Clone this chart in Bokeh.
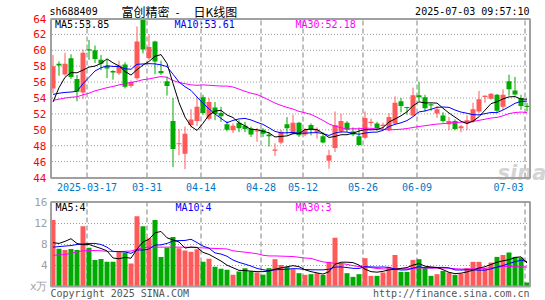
from bokeh.plotting import figure
from bokeh.models import Range1d, FixedTicker, Label, ColumnDataSource
from bokeh.layouts import column
from bokeh.embed import file_html
from bokeh.resources import INLINE

# ---------------- data ----------------
opens = [55.2, 58.3, 56.95, 59.0, 56.4, 54.7, 60.1, 60.0, 58.8, 58.05,
         57.4, 57.1, 58.2, 55.5, 56.5, 63.8, 59.0, 61.1, 57.4, 56.1,
         51.1, 48.2, 47.0, 50.6, 51.1, 54.1, 51.4, 52.8, 52.1, 50.7,
         49.95, 50.9, 50.5, 50.2, 49.8, 50.0, 49.4, 47.4, 48.4, 50.7,
         49.5, 50.9, 49.4, 50.6, 49.7, 49.2, 46.1, 47.7, 49.8, 50.9,
         49.8, 49.2, 49.0, 50.85, 50.8, 50.5, 50.0, 50.8, 53.6, 52.85,
         51.8, 54.35, 54.1, 53.2, 52.05, 51.8, 50.7, 51.1, 50.2, 50.8,
         51.1, 52.3, 54.15, 53.9, 54.4, 52.9, 56.1, 54.95, 54.0, 53.0]
highs = [59.4, 58.6, 59.7, 59.5, 56.9, 60.1, 61.3, 60.6, 59.4, 58.8,
         57.5, 58.7, 58.5, 56.2, 63.0, 63.9, 62.0, 61.2, 58.7, 56.7,
         54.0, 50.1, 50.4, 52.6, 54.1, 54.4, 54.0, 53.5, 52.9, 51.1,
         50.8, 51.2, 51.0, 50.4, 50.2, 50.2, 49.7, 48.3, 50.0, 51.6,
         51.9, 51.0, 50.2, 50.8, 50.3, 49.7, 47.5, 52.3, 52.0, 51.1,
         50.3, 50.3, 52.3, 51.4, 51.0, 50.9, 52.1, 54.2, 54.0, 52.9,
         55.3, 56.0, 54.4, 53.3, 53.0, 52.2, 51.6, 51.3, 50.6, 51.8,
         53.4, 54.9, 54.35, 54.6, 54.5, 55.1, 56.95, 56.65, 54.4, 53.4]
lows = [54.6, 56.8, 56.8, 56.4, 53.6, 53.9, 58.8, 58.4, 57.5, 56.5,
        56.3, 56.9, 55.2, 55.3, 56.3, 59.6, 58.8, 57.0, 56.9, 54.3,
        45.3, 46.8, 45.05, 50.3, 50.5, 51.9, 51.2, 51.2, 51.0, 49.8,
        49.6, 49.7, 49.7, 49.1, 48.5, 49.1, 47.9, 46.7, 48.2, 49.4,
        49.4, 49.1, 49.2, 49.3, 48.9, 48.3, 45.1, 47.2, 49.6, 49.7,
        49.2, 48.0, 48.8, 50.4, 49.9, 50.0, 49.8, 50.6, 52.2, 51.9,
        51.7, 53.6, 52.3, 52.4, 51.5, 50.9, 49.95, 49.95, 49.7, 49.95,
        50.9, 52.1, 53.4, 53.8, 52.2, 52.5, 54.3, 54.3, 52.5, 52.3]
closes = [58.0, 58.1, 58.3, 56.65, 54.8, 59.7, 60.0, 58.9, 58.3, 57.7,
          57.2, 58.1, 55.4, 56.0, 61.1, 60.1, 60.4, 58.6, 57.1, 55.5,
          47.6, 48.3, 49.5, 51.3, 52.9, 52.1, 53.5, 52.0, 51.7, 50.0,
          50.5, 50.2, 50.1, 49.4, 49.9, 49.5, 49.2, 47.5, 49.75, 50.2,
          50.9, 49.3, 50.0, 50.0, 50.0, 48.4, 46.8, 50.6, 51.1, 50.0,
          49.4, 48.1, 51.5, 51.0, 50.2, 50.6, 51.6, 53.4, 53.0, 52.75,
          54.35, 54.1, 52.7, 53.05, 52.6, 51.1, 51.1, 50.1, 50.45, 51.2,
          52.6, 53.85, 54.25, 54.55, 52.4, 54.4, 55.1, 54.45, 53.0, 52.9]
volumes = [12.66, 7.2, 6.97, 7.16, 6.97, 11.5, 7.4, 5.07, 5.26, 4.7,
           4.7, 6.65, 6.46, 4.38, 13.4, 11.5, 9.2, 12.66, 5.64, 7.4,
           9.44, 7.28, 6.84, 6.6, 7.1, 4.7, 5.3, 3.74, 3.4, 3.17,
           2.22, 2.85, 3.5, 2.9, 2.67, 2.25, 3.5, 5.2, 4.1, 3.74,
           3.3, 2.54, 2.22, 2.35, 2.54, 2.22, 4.7, 9.3, 4.38, 2.54,
           1.84, 2.35, 5.39, 2.03, 2.03, 2.67, 3.74, 6.02, 2.79, 2.79,
           5.07, 5.2, 3.49, 2.03, 2.35, 2.98, 2.67, 2.22, 2.47, 3.49,
           4.7, 4.7, 3.49, 4.56, 5.64, 6.02, 6.46, 5.64, 5.5, 0.76]
ma5 = [53.5, 55.3, 56.6, 57.2, 57.17, 57.51, 57.89, 58.01, 58.34, 58.92,
       58.42, 58.04, 57.34, 56.88, 57.56, 58.14, 58.6, 59.24, 59.46, 58.34,
       55.84, 53.42, 51.6, 50.44, 49.92, 50.82, 51.86, 52.36, 52.44, 51.86,
       51.54, 50.88, 50.5, 50.04, 50.02, 49.82, 49.62, 49.1, 49.17, 49.23,
       49.51, 49.53, 50.03, 50.08, 50.04, 49.54, 49.04, 49.16, 49.38, 49.38,
       49.58, 49.84, 50.02, 50.0, 50.04, 50.28, 50.98, 51.36, 51.76, 52.27,
       53.02, 53.52, 53.38, 53.39, 53.36, 52.71, 52.11, 51.59, 51.07, 50.79,
       51.09, 51.64, 52.47, 53.29, 53.53, 53.89, 54.14, 54.18, 53.87, 53.85]
ma10 = [54.45, 54.6, 54.7, 54.75, 54.85, 55.8, 56.6, 57.4, 57.8, 58.05,
        57.97, 57.97, 57.68, 57.61, 58.24, 58.28, 58.32, 58.29, 58.17, 57.95,
        56.99, 56.01, 55.42, 54.95, 54.13, 53.33, 52.64, 51.98, 51.44, 50.89,
        51.18, 51.37, 51.43, 51.24, 50.94, 50.68, 50.25, 49.8, 49.61, 49.63,
        49.67, 49.58, 49.57, 49.63, 49.64, 49.53, 49.29, 49.6, 49.73, 49.71,
        49.56, 49.44, 49.59, 49.69, 49.71, 49.93, 50.41, 50.69, 50.88, 51.16,
        51.65, 52.25, 52.37, 52.58, 52.82, 52.87, 52.82, 52.49, 52.23, 52.08,
        51.9, 51.88, 52.03, 52.18, 52.16, 52.49, 52.89, 53.33, 53.58, 53.61]
ma30 = [53.7, 53.85, 54.0, 54.1, 54.15, 54.4, 54.6, 54.9, 55.1, 55.3,
        55.45, 55.65, 55.8, 55.95, 56.1, 56.3, 56.4, 56.55, 56.7, 56.6,
        56.2, 55.95, 55.8, 55.65, 55.6, 55.65, 55.6, 55.55, 55.5, 55.5,
        55.38, 55.12, 54.84, 54.6, 54.44, 54.1, 53.74, 53.36, 53.07, 52.82,
        52.61, 52.32, 52.14, 51.94, 51.57, 51.18, 50.73, 50.46, 50.26, 50.08,
        50.14, 50.13, 50.2, 50.19, 50.1, 50.05, 49.98, 50.03, 50.07, 50.16,
        50.29, 50.42, 50.51, 50.63, 50.72, 50.77, 50.84, 50.92, 50.95, 50.98,
        51.04, 51.19, 51.33, 51.48, 51.56, 51.76, 52.04, 52.17, 52.23, 52.18]
vma5 = [8.35, 8.2, 8.6, 9.1, 8.19, 7.96, 8.0, 7.62, 7.24, 6.79,
        5.43, 5.28, 5.55, 5.38, 7.12, 8.48, 8.99, 10.23, 10.48, 9.28,
        8.87, 8.48, 7.32, 7.51, 7.45, 6.5, 6.11, 5.49, 4.85, 4.06,
        3.57, 3.08, 3.03, 2.93, 2.83, 2.83, 2.96, 3.3, 3.54, 3.76,
        3.97, 3.78, 3.18, 2.83, 2.59, 2.37, 2.81, 4.22, 4.63, 4.63,
        4.55, 4.08, 3.3, 2.83, 2.73, 2.89, 3.17, 3.3, 3.45, 3.6,
        4.08, 4.37, 3.87, 3.72, 3.63, 3.21, 2.7, 2.45, 2.54, 2.77,
        3.11, 3.52, 3.77, 4.19, 4.62, 4.89, 5.11, 5.53, 5.65, 4.48]
vma10 = [7.5, 7.6, 7.7, 7.8, 8.0, 8.1, 8.2, 8.2, 8.0, 7.49,
         6.69, 6.64, 6.59, 6.31, 6.95, 6.95, 7.13, 7.89, 7.93, 8.2,
         8.67, 8.74, 8.77, 9.0, 8.37, 7.69, 7.3, 6.4, 6.18, 5.76,
         5.04, 4.59, 4.26, 3.89, 3.45, 3.2, 3.02, 3.17, 3.24, 3.29,
         3.4, 3.37, 3.24, 3.19, 3.17, 3.17, 3.29, 3.7, 3.73, 3.61,
         3.46, 3.44, 3.76, 3.73, 3.68, 3.72, 3.63, 3.3, 3.14, 3.17,
         3.49, 3.77, 3.58, 3.58, 3.62, 3.65, 3.54, 3.16, 3.13, 3.2,
         3.16, 3.11, 3.11, 3.36, 3.69, 4.0, 4.38, 4.72, 5.02, 4.75]
vma30 = [5.95, 6.0, 6.1, 6.3, 6.6, 6.8, 6.85, 6.85, 6.8, 6.7,
         6.65, 6.65, 6.7, 6.75, 7.1, 7.4, 7.5, 7.5, 7.5, 7.5,
         7.5, 7.5, 7.5, 7.45, 7.4, 7.35, 7.3, 7.25, 7.2, 7.15,
         6.8, 6.66, 6.54, 6.4, 6.25, 5.95, 5.82, 5.82, 5.78, 5.75,
         5.7, 5.57, 5.42, 5.36, 5.0, 4.69, 4.54, 4.42, 4.38, 4.22,
         3.97, 3.8, 3.75, 3.6, 3.43, 3.36, 3.31, 3.39, 3.37, 3.36,
         3.45, 3.53, 3.53, 3.5, 3.49, 3.51, 3.49, 3.39, 3.33, 3.32,
         3.37, 3.44, 3.48, 3.56, 3.66, 3.79, 3.85, 3.73, 3.76, 3.7]
date_idx = [6, 16, 25, 35, 42, 52, 61, 79]
date_lbl = ["2025-03-17", "03-31", "04-14", "04-28", "05-12", "05-26", "06-09", "07-03"]
price_ticks = [44, 46, 48, 50, 52, 54, 56, 58, 60, 62, 64]
vol_ticks = [0, 4, 8, 12, 16]
symbol = "sh688409"
name = "富创精密"
kline = "日K线图"
stamp = "2025-07-03 09:57:10"
ma_price_txt = ["MA5:53.85", "MA10:53.61", "MA30:52.18"]
ma_vol_txt = ["MA5:4", "MA10:4", "MA30:3"]
copyright_txt = "Copyright 2025 SINA.COM"
url_txt = "http://finance.sina.com.cn"

# ---------------- layout constants (pixels of the 545x300 page) ----------------
W = 545
FL = 47            # left edge of the figure frames
PANEL_L, PANEL_R = 50.5, 529.5
X0, XPP = 52.5, 6.0          # pixel of candle 0, pixels per candle
P_H = 195
P_TOP, P_BOT = 18.0, 177.0   # price 64 / 44
V_TOP, V_BOT = 202.0, 286.0  # volume 16 / 0
P_FRAME_BOT = 181            # price figure frame bottom (date axis below)

RED = "#ff5a5a"
GREEN = "#00aa00"
FRAME = "#a0a0a0"
GRID = "#9c9c9c"
DASH = "#ababab"
MONO = "DejaVu Sans Mono"


def fx(X):
    return (X - X0) / XPP


def py(Y):
    return 64 - (Y - P_TOP) * 20.0 / (P_BOT - P_TOP)


def vy(Y):
    return 16.0 * (V_BOT - Y) / (V_BOT - V_TOP)


n = len(closes)
xs = list(range(n))
colors = [RED if c >= o else GREEN for o, c in zip(opens, closes)]
tops, bots = [], []
for o, c in zip(opens, closes):
    t, b = max(o, c), min(o, c)
    if t - b < 0.14:
        m = (t + b) / 2
        t, b = m + 0.07, m - 0.07
    tops.append(t)
    bots.append(b)

src = ColumnDataSource(dict(x=xs, open=opens, high=highs, low=lows, close=closes,
                            top=tops, bot=bots, color=colors, vol=volumes))

xr = Range1d(fx(FL), fx(W))
vline_x = [t - 2.0 / XPP for t in date_idx]


def style_axis(ax, color, size):
    ax.axis_line_color = None
    ax.major_tick_line_color = None
    ax.minor_tick_line_color = None
    ax.major_tick_out = 0
    ax.minor_tick_out = 0
    ax.major_tick_in = 0
    ax.minor_tick_in = 0
    ax.major_label_text_color = color
    ax.major_label_text_font = MONO
    ax.major_label_text_font_size = size


# ---------------- price panel ----------------
p1 = figure(width=W, height=P_H, x_range=xr,
            y_range=Range1d(py(P_FRAME_BOT), py(0)),
            output_backend="svg", toolbar_location=None, title=None,
            min_border_left=FL, min_border_right=0,
            min_border_top=0, min_border_bottom=P_H - P_FRAME_BOT,
            outline_line_color=None,
            background_fill_color="white", border_fill_color="white")
p1.xgrid.visible = False
p1.ygrid.visible = False
p1.yaxis.ticker = FixedTicker(ticks=price_ticks)
style_axis(p1.yaxis[0], "#ff0000", "11px")
p1.yaxis.major_label_standoff = 1

lbl_pos = []
for i, t in enumerate(date_idx):
    pos = round(t - 2.0 / XPP, 3)
    if i == len(date_idx) - 1:
        pos = round(min(pos, fx(508)), 3)
    lbl_pos.append(pos)
p1.xaxis.ticker = FixedTicker(ticks=lbl_pos)
p1.xaxis.major_label_overrides = {p: l for p, l in zip(lbl_pos, date_lbl)}
style_axis(p1.xaxis[0], "#0078c8", "10px")
p1.xaxis.major_label_standoff = 1

# grid lines inside the panel
gy = [t for t in price_ticks if 44 < t < 64]
p1.segment(x0=[fx(PANEL_L + 1)] * len(gy), y0=gy, x1=[fx(PANEL_R - 1)] * len(gy), y1=gy,
           line_color=GRID, line_width=1, line_dash="1 2")
p1.segment(x0=vline_x, y0=[44] * len(vline_x), x1=vline_x, y1=[64] * len(vline_x),
           line_color=DASH, line_width=1.5, line_dash="5 3")

p1.text(x=[fx(497)], y=[py(172)], text=["sina"], text_color="#d4d4d4",
        text_font={"value": "DejaVu Sans"}, text_font_style="bold italic",
        text_font_size="21px", text_baseline="alphabetic")

p1.segment(x0="x", y0="low", x1="x", y1="high", line_color="color", line_width=1, source=src)
p1.vbar(x="x", width=5.0 / XPP, top="top", bottom="bot", fill_color="color",
        line_color=None, source=src)
p1.line(xs, ma30, line_color="#ff00ff", line_width=1)
p1.line(xs, ma10, line_color="#0000ff", line_width=1)
p1.line(xs, ma5, line_color="#000000", line_width=1)

p1.quad(left=[fx(PANEL_L)], right=[fx(PANEL_R)], top=[py(P_TOP + 0.5)], bottom=[py(P_BOT + 0.5)],
        fill_color=None, line_color=FRAME, line_width=2)

for txt, X, col in zip(ma_price_txt, [54.5, 174, 295], ["#000000", "#0000ff", "#ff00ff"]):
    p1.add_layout(Label(x=fx(X), y=py(23.5), text=txt, text_color=col, text_font=MONO,
                        text_font_size="10px", text_baseline="middle"))

p1.add_layout(Label(x=fx(49), y=py(11), text=symbol, text_color="#000000", text_font=MONO,
                    text_font_size="10px", text_baseline="middle"))
p1.add_layout(Label(x=fx(121), y=py(11), text=name, text_color="#000000",
                    text_font="Noto Sans CJK SC", text_font_size="12px", text_baseline="middle"))
p1.add_layout(Label(x=fx(177), y=py(11), text="-", text_color="#000000", text_font=MONO,
                    text_font_size="11px", text_baseline="middle", text_align="center"))
p1.add_layout(Label(x=fx(193), y=py(11), text=kline, text_color="#000000",
                    text_font="Noto Sans CJK SC", text_font_size="12px", text_baseline="middle"))
p1.add_layout(Label(x=fx(529), y=py(11), text=stamp, text_color="#000000", text_font=MONO,
                    text_font_size="10px", text_baseline="middle", text_align="right"))

# ---------------- volume panel ----------------
V_H = 300 - P_H
p2 = figure(width=W, height=V_H, x_range=xr,
            y_range=Range1d(vy(300), vy(P_H)),
            output_backend="svg", toolbar_location=None, title=None,
            x_axis_location=None,
            min_border_left=FL, min_border_right=0,
            min_border_top=0, min_border_bottom=0,
            outline_line_color=None,
            background_fill_color="white", border_fill_color="white")
p2.xgrid.visible = False
p2.ygrid.visible = False
p2.yaxis.ticker = FixedTicker(ticks=vol_ticks)
p2.yaxis.major_label_overrides = {0: "x万"}
style_axis(p2.yaxis[0], "#a0a0a0", "11px")
p2.yaxis.major_label_standoff = 0

vg = [t for t in vol_ticks if 0 < t < 16]
p2.segment(x0=[fx(PANEL_L + 1)] * len(vg), y0=vg, x1=[fx(PANEL_R - 1)] * len(vg), y1=vg,
           line_color=GRID, line_width=1, line_dash="1 2")
p2.segment(x0=vline_x, y0=[0] * len(vline_x), x1=vline_x, y1=[16] * len(vline_x),
           line_color=DASH, line_width=1.5, line_dash="5 3")

p2.vbar(x="x", width=5.0 / XPP, top="vol", bottom=0, fill_color="color",
        line_color=None, source=src)
p2.line(xs, vma30, line_color="#ff00ff", line_width=1)
p2.line(xs, vma10, line_color="#0000ff", line_width=1)
p2.line(xs, vma5, line_color="#000000", line_width=1)

p2.quad(left=[fx(PANEL_L)], right=[fx(PANEL_R)], top=[vy(V_TOP - 0.5)], bottom=[vy(V_BOT)],
        fill_color=None, line_color=FRAME, line_width=2)

for txt, X, col in zip(ma_vol_txt, [55, 175, 295], ["#000000", "#0000ff", "#ff00ff"]):
    p2.add_layout(Label(x=fx(X), y=vy(206.5), text=txt, text_color=col, text_font=MONO,
                        text_font_size="10px", text_baseline="middle"))

p2.add_layout(Label(x=fx(50), y=vy(292.5), text=copyright_txt, text_color="#555555",
                    text_font=MONO, text_font_size="10px", text_baseline="middle"))
p2.add_layout(Label(x=fx(529), y=vy(292.5), text=url_txt, text_color="#555555",
                    text_font=MONO, text_font_size="10px", text_baseline="middle", text_align="right"))

layout = column(p1, p2, spacing=0,
                styles={"position": "absolute", "left": "0px", "top": "0px"})

open("out.html", "w").write(file_html(layout, INLINE))
